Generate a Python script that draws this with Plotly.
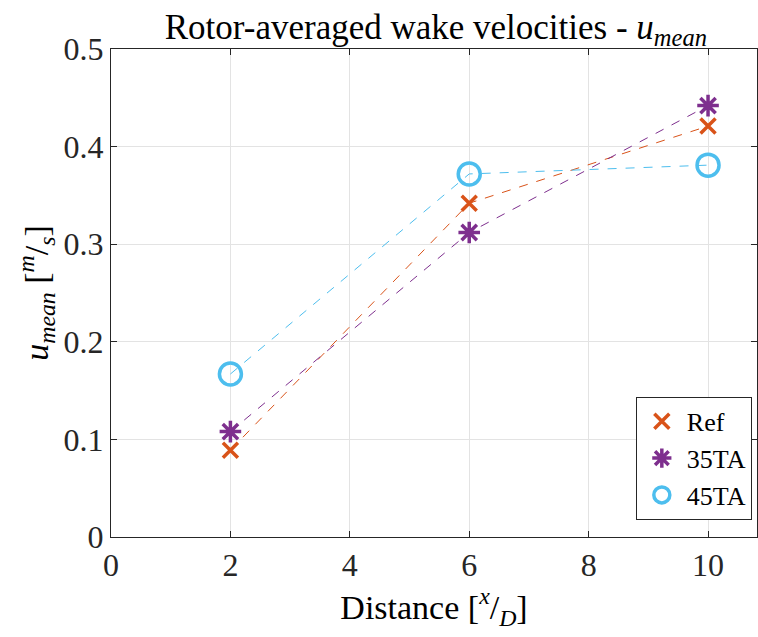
import plotly.graph_objects as go

distance = [2, 6, 10]
ref_vals = [0.089, 0.342, 0.421]
ta35_vals = [0.108, 0.312, 0.442]
ta45_vals = [0.167, 0.372, 0.381]
series_names = ["Ref", "35TA", "45TA"]
x_ticks = [0, 2, 4, 6, 8, 10]
y_ticks = [0, 0.1, 0.2, 0.3, 0.4, 0.5]

colors = ["#D95319", "#7E2F8E", "#4DBEEE"]
symbols = ["x-thin-open", "asterisk-open", "circle-open"]
sizes = [15, 18, 22]

fig = go.Figure()
for name, vals, c in zip(series_names, [ref_vals, ta35_vals, ta45_vals], colors):
    fig.add_trace(go.Scatter(
        x=distance, y=vals, mode="lines", showlegend=False, hoverinfo="skip",
        line=dict(color=c, width=1, dash="dash"),
    ))
for name, vals, c, s, sz in zip(series_names, [ref_vals, ta35_vals, ta45_vals], colors, symbols, sizes):
    fig.add_trace(go.Scatter(
        x=distance, y=vals, name=name, mode="markers",
        marker=dict(symbol=s, size=sz, color=c, line=dict(color=c, width=3.5)),
    ))

font_family = "Liberation Serif, DejaVu Serif, serif"
fig.update_layout(
    width=758, height=637,
    margin=dict(l=111, r=1, t=49, b=100),
    paper_bgcolor="white", plot_bgcolor="white",
    font=dict(family=font_family, size=32, color="#262626"),
    title=dict(text="Rotor-averaged wake velocities - <i>u</i><sub><i>mean</i></sub>",
               x=0.575, xanchor="center", y=0.958, yanchor="middle",
               font=dict(family=font_family, size=35, color="black")),
    xaxis=dict(range=[0, 10.82], tickvals=x_ticks, ticktext=[str(v) for v in x_ticks],
               showgrid=True, gridcolor="#e3e3e3", gridwidth=1, automargin=False,
               showline=True, linecolor="#262626", linewidth=1, mirror="ticks",
               ticks="inside", ticklen=6, tickcolor="#262626", zeroline=False,
               tickfont=dict(size=32),
               title=dict(text="Distance [<sup><i>x</i></sup>/<sub><i>D</i></sub>]",
                          font=dict(size=34, color="black"), standoff=4)),
    yaxis=dict(range=[0, 0.5], tickvals=y_ticks, ticktext=["0", "0.1", "0.2", "0.3", "0.4", "0.5"],
               showgrid=True, gridcolor="#e3e3e3", gridwidth=1, automargin=False,
               showline=True, linecolor="#262626", linewidth=1, mirror="ticks",
               ticks="inside", ticklen=6, tickcolor="#262626", zeroline=False,
               tickfont=dict(size=32),
               title=dict(text="<i>u</i><sub><i>mean</i></sub> [<sup><i>m</i></sup>/<sub><i>s</i></sub>]",
                          font=dict(size=34, color="black"), standoff=4)),
    legend=dict(x=0.992, y=0.035, xanchor="right", yanchor="bottom",
                bgcolor="white", bordercolor="#262626", borderwidth=1,
                font=dict(size=26, color="black"), itemwidth=40, tracegroupgap=0),
    showlegend=True,
)

fig.write_html("out.html", config={"displayModeBar": False},
               post_script="document.body.style.margin='0';document.body.style.overflow='hidden';")
